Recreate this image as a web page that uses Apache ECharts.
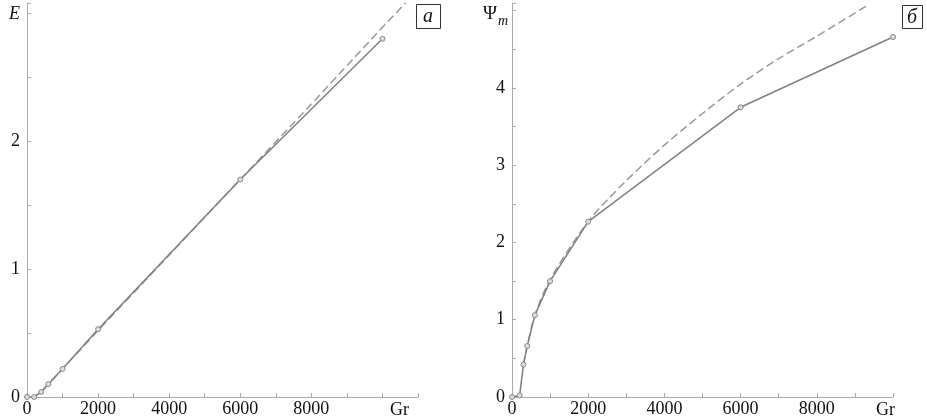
<!DOCTYPE html>
<html>
<head>
<meta charset="utf-8">
<script src="https://cdn.jsdelivr.net/npm/echarts@6/dist/echarts.min.js"></script>
<style>
  html, body { margin: 0; padding: 0; background: #fff; }
  #chart { width: 927px; height: 420px; }
</style>
</head>
<body>
<div id="chart"></div>
<script>
// panel a: E(Gr)
const grA = [0, 200, 400, 600, 1000, 2000, 6000, 10000];
const eSolid = [0, 0, 0.04, 0.1, 0.22, 0.53, 1.7, 2.8];
const grAdash = [200, 400, 600, 1000, 2000, 4000, 6000, 8000, 10000, 10650];
const eDash = [0, 0.04, 0.1, 0.22, 0.52, 1.11, 1.7, 2.29, 2.89, 3.08];

// panel b: psi_m(Gr)
const grB = [0, 200, 300, 400, 600, 1000, 2000, 6000, 10000];
const psiSolid = [0, 0.02, 0.42, 0.66, 1.06, 1.5, 2.27, 3.75, 4.66];
const grBdash = [300, 400, 600, 1000, 2000, 3000, 4000, 5000, 6000, 7000, 8000, 9300];
const psiDash = [0.42, 0.66, 1.06, 1.52, 2.27, 2.8, 3.26, 3.67, 4.05, 4.38, 4.67, 5.06];

const xTickLabels = [0, 2000, 4000, 6000, 8000];
const yTickLabelsA = [0, 1, 2];
const yTickLabelsB = [0, 1, 2, 3, 4];

const pairs = (xs, ys) => xs.map((x, i) => [x, ys[i]]);

const font = 'Liberation Serif';
const chart = echarts.init(document.getElementById('chart'));

function xAxisFor(idx, max) {
  return {
    gridIndex: idx,
    type: 'value',
    min: 0,
    max: max,
    interval: 1000,
    axisLine: { lineStyle: { color: '#aaa', width: 1 } },
    axisTick: { inside: true, length: 4, lineStyle: { color: '#aaa' } },
    splitLine: { show: false },
    axisLabel: {
      fontFamily: font,
      fontSize: 18,
      color: '#111',
      margin: 3,
      formatter: (v) => (xTickLabels.indexOf(v) >= 0 ? String(v) : ''),
    },
  };
}

function yAxisFor(idx, max, labels) {
  return {
    gridIndex: idx,
    type: 'value',
    min: 0,
    max: max,
    interval: 0.5,
    axisLine: { show: true, lineStyle: { color: '#aaa', width: 1 } },
    axisTick: { show: true, inside: true, length: 4, lineStyle: { color: '#aaa' } },
    splitLine: { show: false },
    axisLabel: {
      fontFamily: font,
      fontSize: 18,
      color: '#111',
      margin: 7,
      formatter: (v) => (labels.indexOf(v) >= 0 ? String(v) : ''),
    },
  };
}

const solid = { color: '#808080', width: 1.5 };
const dashed = { color: '#999', width: 1.5, type: [8, 4] };

function box(left, top, w, h, txt) {
  return [
    { type: 'rect', left: left, top: top, shape: { width: w, height: h },
      style: { fill: '#fff', stroke: '#333', lineWidth: 1 } },
    { type: 'text', x: left + w / 2, y: top + h / 2 + 1,
      style: { text: txt, font: 'italic 20px ' + font, fill: '#111', align: 'center', verticalAlign: 'middle' } },
  ];
}

chart.setOption({
  animation: false,
  backgroundColor: '#fff',
  grid: [
    { left: 27, top: 3, width: 391, bottom: 23 },
    { left: 512, top: 3, width: 381, bottom: 23 },
  ],
  xAxis: [xAxisFor(0, 11000), xAxisFor(1, 10000)],
  yAxis: [yAxisFor(0, 3.08, yTickLabelsA), yAxisFor(1, 5.1, yTickLabelsB)],
  series: [
    { type: 'line', xAxisIndex: 0, yAxisIndex: 0, data: pairs(grAdash, eDash),
      showSymbol: false, lineStyle: dashed, z: 1 },
    { type: 'line', xAxisIndex: 0, yAxisIndex: 0, data: pairs(grA, eSolid),
      symbol: 'circle', symbolSize: 5, lineStyle: solid,
      itemStyle: { color: '#ddd', borderColor: '#888', borderWidth: 1 }, z: 2 },
    { type: 'line', xAxisIndex: 1, yAxisIndex: 1, data: pairs(grBdash, psiDash),
      showSymbol: false, smooth: 0.3, lineStyle: dashed, z: 1 },
    { type: 'line', xAxisIndex: 1, yAxisIndex: 1, data: pairs(grB, psiSolid),
      symbol: 'circle', symbolSize: 5, lineStyle: solid,
      itemStyle: { color: '#ddd', borderColor: '#888', borderWidth: 1 }, z: 2 },
  ],
  graphic: [
    { type: 'text', x: 9, y: 5,
      style: { text: 'E', font: 'italic 18px ' + font, fill: '#111' } },
    { type: 'text', x: 483, y: 5,
      style: { text: 'Ψ', font: '19px ' + font, fill: '#111' } },
    { type: 'text', x: 498, y: 14,
      style: { text: 'm', font: 'italic 14px ' + font, fill: '#111' } },
    { type: 'text', x: 390, y: 401,
      style: { text: 'Gr', font: '18px ' + font, fill: '#111' } },
    { type: 'text', x: 876, y: 401,
      style: { text: 'Gr', font: '18px ' + font, fill: '#111' } },
    ...box(416, 4, 24, 24, 'а'),
    ...box(902, 5, 20, 23, 'б'),
  ],
});
</script>
</body>
</html>
